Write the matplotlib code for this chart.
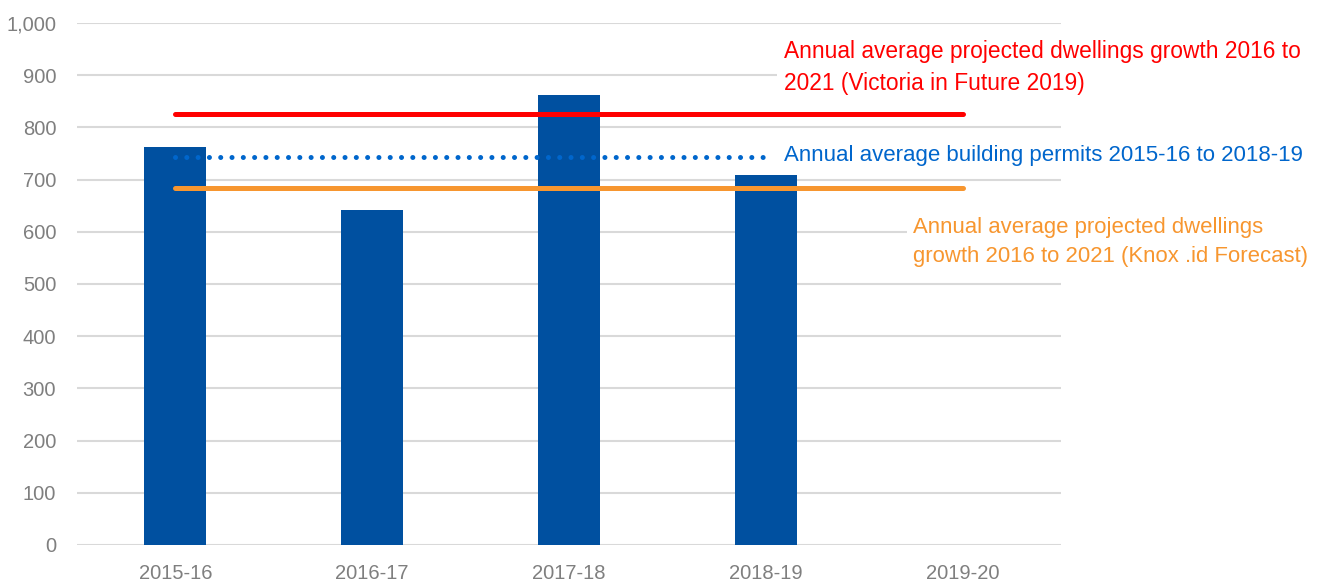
import numpy as np
import matplotlib
matplotlib.use("Agg")
import matplotlib.pyplot as plt

# data
years = ["2015-16", "2016-17", "2017-18", "2018-19", "2019-20"]
permits = [762, 642, 862, 709, np.nan]

vif_avg = 826      # Victoria in Future 2019
permit_avg = 744   # building permits 2015-16 to 2018-19
knox_avg = 684     # Knox .id forecast

plt.rcParams["font.family"] = ["Liberation Sans", "DejaVu Sans"]

fig = plt.figure(figsize=(13.37, 5.85), dpi=100)
ax = fig.add_axes([0.0576, 0.0684, 0.736, 0.8923])

x = np.arange(len(years))
ax.bar(x, permits, width=0.315, color="#0050A0", zorder=2)

ax.plot([x[0], x[-1]], [vif_avg, vif_avg], color="#FF0000", lw=3.6,
        solid_capstyle="round", zorder=3)
ax.plot([x[0], x[3]], [permit_avg, permit_avg], color="#0066CC", lw=3.6,
        linestyle=(0, (0.01, 2.25)), dash_capstyle="round", zorder=3)
ax.plot([x[0], x[-1]], [knox_avg, knox_avg], color="#F7962F", lw=3.6,
        solid_capstyle="round", zorder=3)

box = dict(facecolor="white", edgecolor="none", pad=5)
ax.text(3.09, 914, "Annual average projected dwellings growth 2016 to\n2021 (Victoria in Future 2019)",
        color="#FF0000", fontsize=16.4, va="center", ha="left", linespacing=1.5,
        bbox=box, clip_on=False, zorder=4)
ax.text(3.09, 747, "Annual average building permits 2015-16 to 2018-19",
        color="#0066CC", fontsize=16, va="center", ha="left",
        bbox=box, clip_on=False, zorder=4)
ax.text(3.75, 580, "Annual average projected dwellings\ngrowth 2016 to 2021 (Knox .id Forecast)",
        color="#F7962F", fontsize=15.9, va="center", ha="left", linespacing=1.5,
        bbox=box, clip_on=False, zorder=4)

ax.set_xlim(-0.5, 4.5)
ax.set_ylim(0, 1000)
ax.set_yticks(np.arange(0, 1001, 100))
ax.set_yticklabels([f"{v:,}" for v in range(0, 1001, 100)])
ax.set_xticks(x)
ax.set_xticklabels(years)
ax.tick_params(length=0, labelsize=14.5, colors="#7F7F7F")
ax.tick_params(axis="x", pad=14)
ax.tick_params(axis="y", pad=15)
ax.yaxis.grid(True, color="#D9D9D9", lw=1.5, zorder=0)
ax.set_axisbelow(True)
for s in ax.spines.values():
    s.set_visible(False)

fig.savefig("out.png", dpi=100)
